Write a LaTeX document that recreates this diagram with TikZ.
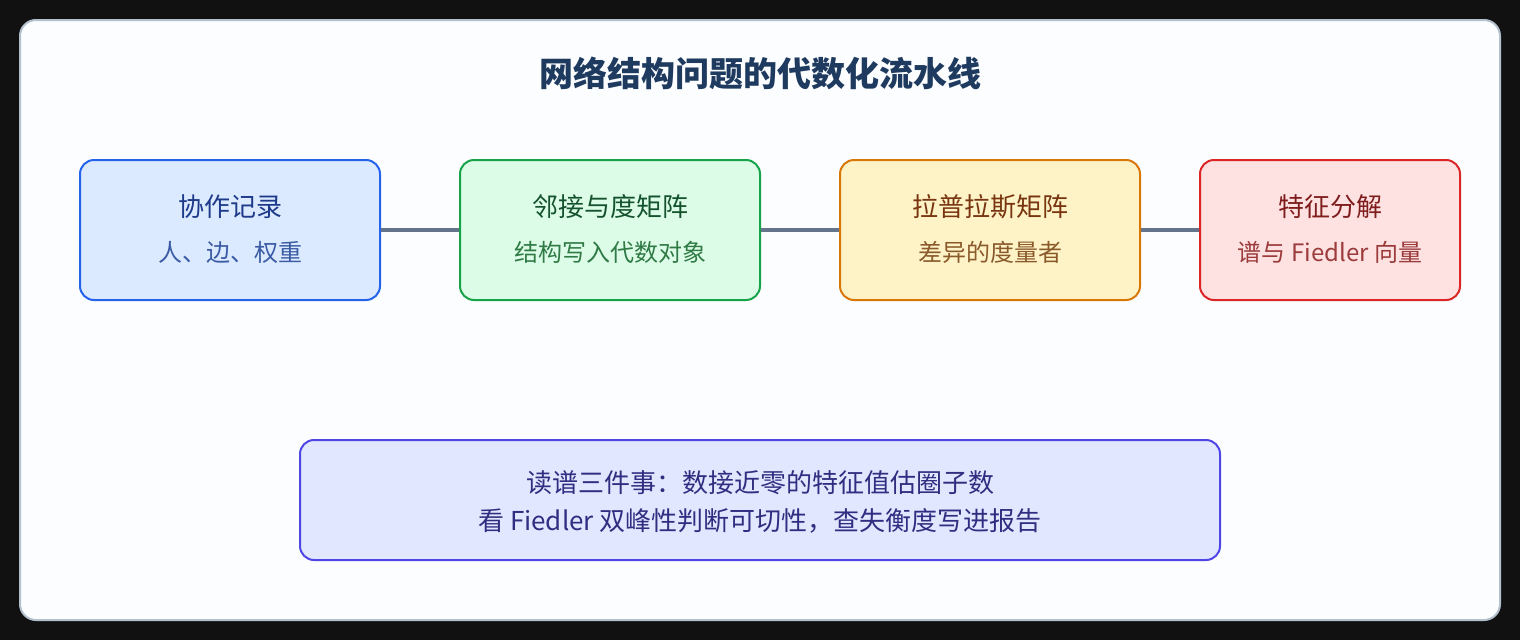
\documentclass[tikz,border=0pt]{standalone}
\usepackage{fontspec}
\setmainfont{Noto Sans CJK SC}
\definecolor{bgdark}{HTML}{111111}
\definecolor{panelfill}{HTML}{FBFDFF}
\definecolor{panelline}{HTML}{B4C0CE}
\definecolor{titlecol}{HTML}{1E3A5F}
\definecolor{conn}{HTML}{64748B}
\definecolor{bAf}{HTML}{DBEAFE}\definecolor{bAd}{HTML}{2563EB}\definecolor{bAt}{HTML}{1E3A8A}\definecolor{bAs}{HTML}{3B5BA5}
\definecolor{bBf}{HTML}{DCFCE7}\definecolor{bBd}{HTML}{16A34A}\definecolor{bBt}{HTML}{14532D}\definecolor{bBs}{HTML}{2F7A45}
\definecolor{bCf}{HTML}{FEF3C7}\definecolor{bCd}{HTML}{D97706}\definecolor{bCt}{HTML}{78350F}\definecolor{bCs}{HTML}{8A5A2B}
\definecolor{bDf}{HTML}{FEE2E2}\definecolor{bDd}{HTML}{DC2626}\definecolor{bDt}{HTML}{7F1D1D}\definecolor{bDs}{HTML}{9B3B3B}
\definecolor{bEf}{HTML}{E0E7FF}\definecolor{bEd}{HTML}{4F46E5}\definecolor{bEt}{HTML}{312E81}
\tikzset{
  stagebox/.style={draw, line width=2pt, rounded corners=14pt, minimum height=140pt, inner sep=0pt},
  conline/.style={draw=conn, line width=4pt},
  headtxt/.style={font=\fontsize{26}{30}\selectfont},
  subtxt/.style={font=\fontsize{24}{28}\selectfont},
}
\begin{document}
\begin{tikzpicture}[x=1pt,y=-1pt]
\useasboundingbox (0,0) rectangle (1520,640);
\fill[bgdark] (0,0) rectangle (1520,640);
\draw[panelline, fill=panelfill, line width=2pt, rounded corners=16pt] (20,20) rectangle (1500,620);
\node[text=titlecol, font=\fontsize{34}{40}\selectfont\bfseries] (title) at (760,73) {网络结构问题的代数化流水线};

\node[stagebox, fill=bAf, draw=bAd, minimum width=300pt] (b1) at (230,230) {};
\node[stagebox, fill=bBf, draw=bBd, minimum width=300pt] (b2) at (610,230) {};
\node[stagebox, fill=bCf, draw=bCd, minimum width=300pt] (b3) at (990,230) {};
\node[stagebox, fill=bDf, draw=bDd, minimum width=260pt] (b4) at (1330,230) {};

\draw[conline] (b1.east) -- (b2.west);
\draw[conline] (b2.east) -- (b3.west);
\draw[conline] (b3.east) -- (b4.west);

\node[headtxt, text=bAt] (t1) at (230,207) {协作记录};
\node[subtxt, text=bAs] (s1) at (230,252) {人、边、权重};
\node[headtxt, text=bBt] (t2) at (610,207) {邻接与度矩阵};
\node[subtxt, text=bBs] (s2) at (610,252) {结构写入代数对象};
\node[headtxt, text=bCt] (t3) at (990,207) {拉普拉斯矩阵};
\node[subtxt, text=bCs] (s3) at (990,252) {差异的度量者};
\node[headtxt, text=bDt] (t4) at (1330,207) {特征分解};
\node[subtxt, text=bDs] (s4) at (1330,252) {谱与 Fiedler 向量};

\node[draw=bEd, fill=bEf, line width=2pt, rounded corners=14pt, minimum width=920pt, minimum height=120pt, inner sep=0pt] (b5) at (760,500) {};
\node[headtxt, text=bEt] (l1) at (760,483) {读谱三件事：数接近零的特征值估圈子数};
\node[headtxt, text=bEt] (l2) at (760,521) {看 Fiedler 双峰性判断可切性，查失衡度写进报告};
\end{tikzpicture}
\end{document}
